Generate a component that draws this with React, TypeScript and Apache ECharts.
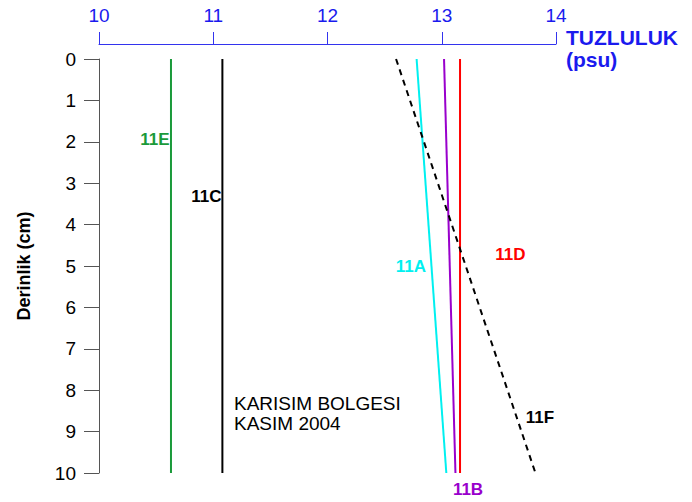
import React, { useEffect, useRef } from "react";
import * as echarts from "echarts";

const depths = [0, 10];
const s11E = [10.63, 10.63];
const s11C = [11.08, 11.08];
const s11A = [12.78, 13.04];
const s11B = [13.02, 13.12];
const s11D = [13.16, 13.16];
const s11F = [12.6, 13.82];

const seriesNames = ["11E", "11C", "11A", "11B", "11D", "11F"];
const seriesValues = [s11E, s11C, s11A, s11B, s11D, s11F];
const seriesColors = ["#1a9a3a", "#000000", "#00f0f0", "#9900cc", "#ff0000", "#000000"];
// label anchors in data units [salinity, depth]
const labelAnchors: [number, number][] = [
  [10.49, 1.94],
  [10.94, 3.32],
  [12.73, 5.01],
  [13.23, 10.39],
  [13.6, 4.72],
  [13.86, 8.67],
];

const FONT = "'Liberation Sans', Arial, Helvetica, sans-serif";

export default function App() {
  const ref = useRef<HTMLDivElement>(null);
  useEffect(() => {
    const chart = echarts.init(ref.current!, null, { renderer: "svg" });
    const lineSeries = seriesNames.map((n, i) => ({
      type: "line",
      name: n,
      data: depths.map((d, j) => [seriesValues[i][j], d]),
      showSymbol: false,
      symbol: "none",
      lineStyle: {
        color: seriesColors[i],
        width: 2,
        type: n === "11F" ? [6, 5] : "solid",
      },
      z: 3,
    }));
    chart.setOption({
      animation: false,
      backgroundColor: "#ffffff",
      grid: { left: 99, right: 136, top: 59, bottom: 29 },
      xAxis: {
        type: "value",
        position: "top",
        min: 10,
        max: 14,
        interval: 1,
        offset: 15,
        splitLine: { show: false },
        axisLine: { show: true, onZero: false, lineStyle: { color: "#3333ee", width: 1 } },
        axisTick: { show: true, length: 12, lineStyle: { color: "#3333ee" } },
        axisLabel: { color: "#1a1aee", fontSize: 19, fontFamily: FONT, margin: 19 },
      },
      yAxis: {
        type: "value",
        inverse: true,
        min: 0,
        max: 10,
        interval: 1,
        name: "Derinlik (cm)",
        nameLocation: "middle",
        nameGap: 66,
        nameRotate: 90,
        nameTextStyle: { color: "#000", fontWeight: "bold", fontSize: 18, fontFamily: FONT },
        splitLine: { show: false },
        axisLine: { show: true, onZero: false, lineStyle: { color: "#555", width: 1 } },
        axisTick: { show: true, length: 15, lineStyle: { color: "#555" } },
        axisLabel: { color: "#000", fontSize: 19, fontFamily: FONT, margin: 23 },
      },
      series: lineSeries,
    });
    const labelGraphics = seriesNames.map((n, i) => {
      const p = chart.convertToPixel({ gridIndex: 0 }, labelAnchors[i]) as number[];
      return {
        type: "text",
        x: p[0],
        y: p[1],
        style: {
          text: n,
          fill: seriesColors[i],
          font: `bold 17px ${FONT}`,
          align: "center",
          verticalAlign: "middle",
        },
        z: 10,
      };
    });
    chart.setOption({
      graphic: [
        {
          type: "text",
          left: 566,
          top: 26,
          style: {
            text: "TUZLULUK\n(psu)",
            fill: "#1a1aee",
            font: `bold 21px ${FONT}`,
            lineHeight: 22,
          },
        },
        {
          type: "text",
          left: 234,
          top: 393,
          style: {
            text: "KARISIM BOLGESI\nKASIM 2004",
            fill: "#000",
            font: `19px ${FONT}`,
            lineHeight: 20,
          },
        },
        ...labelGraphics,
      ],
    });
    return () => chart.dispose();
  }, []);
  return <div ref={ref} style={{ width: 692, height: 502, position: "absolute", left: 0, top: 0 }} />;
}
